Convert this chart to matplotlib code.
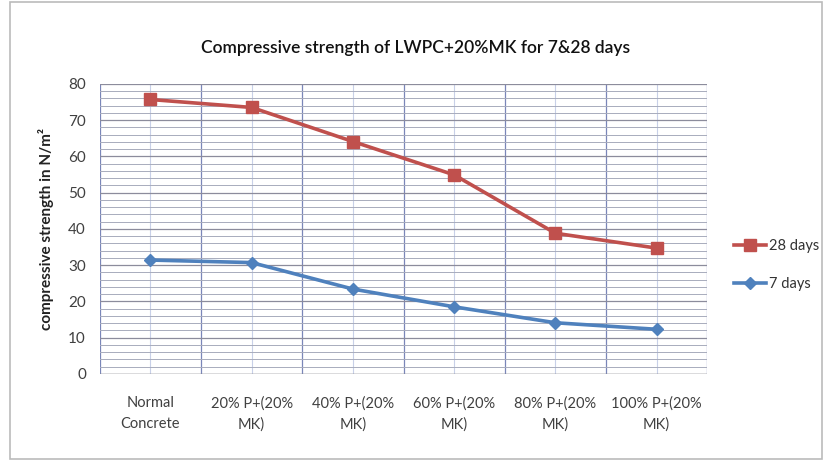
import matplotlib.pyplot as plt
import matplotlib.ticker as ticker
from matplotlib.patches import Rectangle

# Veriler
kategoriler = ["Normal\nConcrete", "20% P+(20%\nMK)", "40% P+(20%\nMK)",
               "60% P+(20%\nMK)", "80% P+(20%\nMK)", "100% P+(20%\nMK)"]
gun28 = [75.7, 73.5, 64.1, 54.9, 38.8, 34.7]
gun7 = [31.4, 30.7, 23.4, 18.5, 14.1, 12.3]

plt.rcParams["font.family"] = ["Lato", "DejaVu Sans"]

fig = plt.figure(figsize=(8.32, 4.61), dpi=100)
ax = fig.add_axes([0.120, 0.189, 0.730, 0.629])

x = list(range(len(kategoriler)))
ax.plot(x, gun28, color="#C0504D", lw=2.6, marker="s", ms=9, label="28 days", zorder=4)
ax.plot(x, gun7, color="#4F81BD", lw=2.6, marker="D", ms=6, label="7 days", zorder=4)

ax.set_xlim(-0.5, len(kategoriler) - 0.5)
ax.set_ylim(0, 80)
ax.yaxis.set_major_locator(ticker.MultipleLocator(10))
ax.yaxis.set_minor_locator(ticker.MultipleLocator(2))
ax.set_xticks(x)
ax.set_xticklabels(kategoriler, fontsize=10.5, color="#404040", linespacing=1.6)
ax.tick_params(axis="x", length=0, pad=16)
ax.tick_params(axis="y", length=0, which="both", labelsize=11, colors="#404040", pad=10)

# Izgara
ax.grid(True, which="major", axis="y", color="#8C8C9C", lw=0.9, zorder=0)
ax.grid(True, which="minor", axis="y", color="#A8ACBC", lw=0.7, zorder=0)
for k in range(len(kategoriler) + 1):
    ax.axvline(k - 0.5, color="#7A86B8", lw=0.9, zorder=1)
for k in x:
    ax.axvline(k, color="#C8D0E8", lw=0.8, zorder=1)

for s in ax.spines.values():
    s.set_visible(False)
ax.axhline(0, color="#888888", lw=1.0, zorder=2)

ax.set_ylabel("compressive strength in N/m²", fontsize=11, fontweight="bold",
              color="#222222", labelpad=10)
fig.text(0.5, 0.895, "Compressive strength of LWPC+20%MK for 7&28 days",
         ha="center", va="center", fontsize=12.5, fontweight="semibold", color="#111111")

fig.legend(loc="center left", bbox_to_anchor=(0.866, 0.425), frameon=False,
           fontsize=10.5, handlelength=2.2, labelspacing=1.7, handletextpad=0.2,
           labelcolor="#333333")

# Dis cerceve
fig.patches.append(Rectangle((0.012, 0.005), 0.976, 0.99, transform=fig.transFigure,
                             fill=False, edgecolor="#BBBBBB", lw=1.2))

fig.savefig("out.png", dpi=100)
